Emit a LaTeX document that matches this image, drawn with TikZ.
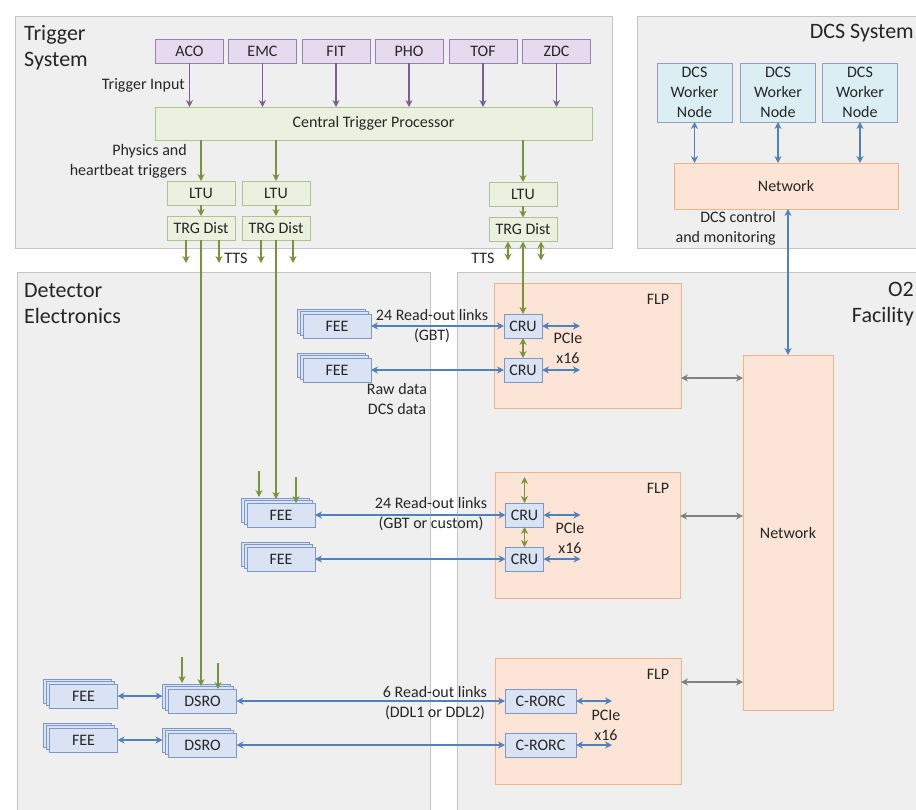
\documentclass[tikz,border=0pt]{standalone}
\usepackage{fontspec}
\setmainfont{Carlito}
\usetikzlibrary{arrows.meta}
\definecolor{txt}{HTML}{262626}
\definecolor{panelfill}{HTML}{EFEFEF}
\definecolor{panelline}{HTML}{C4C4C4}
\definecolor{pfill}{HTML}{E6DAEE}
\definecolor{pline}{HTML}{9582B4}
\definecolor{parrow}{HTML}{7A5E99}
\definecolor{gfill}{HTML}{EBF1DE}
\definecolor{gline}{HTML}{AEC48F}
\definecolor{garrow}{HTML}{77933C}
\definecolor{bfill}{HTML}{DAE3F3}
\definecolor{bline}{HTML}{7D98C8}
\definecolor{barrow}{HTML}{4F81BD}
\definecolor{cfill}{HTML}{DBEEF4}
\definecolor{cline}{HTML}{949CC4}
\definecolor{ofill}{HTML}{FCE4D6}
\definecolor{oline}{HTML}{F4B183}
\definecolor{grayarrow}{HTML}{808080}
\newcommand\boxfont{\fontsize{16}{20}\selectfont}
\newcommand\titlefont{\fontsize{22}{26}\selectfont}
\newcommand\stk[4]{%
  \node[bluebox] (#1c) at (#2-6,#3-5) {};
  \node[bluebox] (#1b) at (#2-3,#3-2.5) {};
  \node[bluebox] (#1) at (#2,#3) {#4};}
\tikzset{
  every node/.style={text=txt},
  panel/.style={fill=panelfill, draw=panelline, line width=1pt},
  title/.style={font=\titlefont, inner sep=0pt, align=left},
  bx/.style={line width=1pt, inner sep=0pt, outer sep=0pt, font=\boxfont,
             minimum height=24pt, minimum width=68pt},
  purplebox/.style={bx, fill=pfill, draw=pline},
  greenbox/.style={bx, fill=gfill, draw=gline},
  bluebox/.style={bx, fill=bfill, draw=bline},
  cyanbox/.style={bx, fill=cfill, draw=cline, align=center},
  orangebox/.style={bx, fill=ofill, draw=oline},
  lbl/.style={font=\boxfont, inner sep=0pt, align=center},
  parr/.style={draw=parrow, line width=1.5pt, -{Stealth[length=7pt,width=7pt]}},
  garr/.style={draw=garrow, line width=1.5pt, -{Stealth[length=7pt,width=7pt]}},
  gdarr/.style={draw=garrow, line width=1.5pt, {Stealth[length=7pt,width=7pt]}-{Stealth[length=7pt,width=7pt]}},
  barr/.style={draw=barrow, line width=1.4pt, {Stealth[length=7pt,width=7pt]}-{Stealth[length=7pt,width=7pt]}},
  grarr/.style={draw=grayarrow, line width=1.4pt, {Stealth[length=7pt,width=7pt]}-{Stealth[length=7pt,width=7pt]}},
}
\begin{document}
\begin{tikzpicture}[x=1pt,y=-1pt]
\useasboundingbox (0,0) rectangle (916,809);
\fill[white] (0,0) rectangle (916,809);
\clip (0,0) rectangle (916,809);
% panels
\draw[panel] (15,16) rectangle (612,248);
\draw[panel] (637,16) rectangle (930,248);
\draw[panel] (17,272) rectangle (430,830);
\draw[panel] (457,272) rectangle (930,830);
% titles
\node[title, anchor=west] at (24,48) {Trigger\\System};
\node[title, anchor=east, align=right] at (914,33) {DCS System};
\node[title, anchor=west] at (24,304) {Detector\\Electronics};
\node[title, anchor=east, align=right] at (914,304) {O2\\Facility};
% trigger system
\node[purplebox] (aco) at (189.5,51) {ACO};
\node[purplebox] (emc) at (262.5,51) {EMC};
\node[purplebox] (fit) at (336,51) {FIT};
\node[purplebox] (pho) at (409,51) {PHO};
\node[purplebox] (tof) at (483,51) {TOF};
\node[purplebox] (zdc) at (556.5,51) {ZDC};
\node[greenbox, minimum width=437pt, minimum height=33pt] (ctp) at (373.5,123.5) {Central Trigger Processor};
\foreach \n in {aco,emc,fit,pho,tof,zdc} \draw[parr] (\n.south) -- (\n.south |- ctp.north);
\node[greenbox] (ltu1) at (201,193) {LTU};
\node[greenbox] (ltu2) at (276,193) {LTU};
\node[greenbox] (ltu3) at (523,194) {LTU};
\node[greenbox] (trg1) at (201,228) {TRG Dist};
\node[greenbox] (trg2) at (276,228) {TRG Dist};
\node[greenbox] (trg3) at (523,229.5) {TRG Dist};
\foreach \i in {1,2,3} {
  \draw[garr] (ltu\i.north |- ctp.south) -- (ltu\i.north);
  \draw[garr] (ltu\i) -- (trg\i);
}
\node[lbl, anchor=east] at (185,85) {Trigger Input};
\node[lbl, anchor=east, align=right] at (187,161) {Physics and\\heartbeat triggers};
\draw[garr] ([xshift=-15pt]trg1.south) -- ++(0,23);
\draw[garr] ([xshift=18pt]trg1.south) -- ++(0,23);
\draw[garr] ([xshift=-15pt]trg2.south) -- ++(0,23);
\draw[garr] ([xshift=17pt]trg2.south) -- ++(0,23);
\draw[gdarr] ([xshift=-15pt]trg3.south) -- ++(0,19);
\draw[gdarr] ([xshift=18pt]trg3.south) -- ++(0,19);
\node[lbl] at (236,258) {TTS};
\node[lbl] at (483,258) {TTS};
% DCS system
\node[cyanbox, minimum width=75pt, minimum height=59pt] (w1) at (694.5,92.5) {DCS\\Worker\\Node};
\node[cyanbox, minimum width=75pt, minimum height=59pt] (w2) at (778,92.5) {DCS\\Worker\\Node};
\node[cyanbox, minimum width=75pt, minimum height=59pt] (w3) at (860,92.5) {DCS\\Worker\\Node};
\node[orangebox, minimum width=224pt, minimum height=46pt] (dnet) at (786,186) {Network};
\foreach \w in {w1,w2,w3} \draw[barr] (\w.south) -- (\w.south |- dnet.north);
\node[lbl, anchor=east, align=right] at (776,228.5) {DCS control\\and monitoring};
% O2 facility
\node[orangebox, minimum width=187pt, minimum height=125pt] (flp1) at (587.5,345.5) {};
\node[orangebox, minimum width=185pt, minimum height=126pt] (flp2) at (587.5,535) {};
\node[orangebox, minimum width=186pt, minimum height=126pt] (flp3) at (588,721) {};
\node[lbl] at (658,299) {FLP};
\node[lbl] at (658,488) {FLP};
\node[lbl] at (658,674) {FLP};
\node[orangebox, minimum width=90pt, minimum height=355pt] (onet) at (788,532.5) {Network};
\draw[barr] (onet.north) -- (onet.north |- dnet.south);
\coordinate (g1) at (681,378);
\coordinate (g2) at (681,516);
\coordinate (g3) at (681,682);
\draw[grarr] (flp1.east |- g1) -- (onet.west |- g1);
\draw[grarr] (flp2.east |- g2) -- (onet.west |- g2);
\draw[grarr] (flp3.east |- g3) -- (onet.west |- g3);
\node[bluebox, minimum width=38pt] (cru1) at (523,326) {CRU};
\node[bluebox, minimum width=38pt] (cru2) at (523,370) {CRU};
\node[bluebox, minimum width=38pt] (cru3) at (524.5,515) {CRU};
\node[bluebox, minimum width=38pt] (cru4) at (524.5,559) {CRU};
\node[bluebox, minimum width=71pt] (crorc1) at (540.5,701) {C-RORC};
\node[bluebox, minimum width=71pt] (crorc2) at (540.5,745) {C-RORC};
% detector electronics
\stk{fee1}{337}{326}{FEE}
\stk{fee2}{337}{370}{FEE}
\stk{fee3}{281}{515}{FEE}
\stk{fee4}{281}{559}{FEE}
\stk{fee5}{83.5}{696}{FEE}
\stk{fee6}{83.5}{740}{FEE}
\stk{dsro1}{202.5}{701}{DSRO}
\stk{dsro2}{202.5}{745}{DSRO}
% trigger lines into detector
\draw[gdarr] (trg3.south) -- (cru1.north);
\draw[gdarr] (cru1.south) -- (cru2.north);
\draw[gdarr] (cru3.south) -- (cru4.north);
\draw[gdarr] (cru3.north) -- ++(0,-26);
\coordinate (d1) at (182,657);
\coordinate (d2) at (218,663);
\draw[garr] (d1) -- ++(0,26);
\draw[garr] (d2) -- ++(0,26);
\draw[garr] (trg1.south) -- ++(0,446);
\coordinate (f1) at (259,471);
\coordinate (f2) at (296,477);
\draw[garr] (f1) -- ++(0,26);
\draw[garr] (f2) -- ++(0,26);
\draw[garr] (trg2.south) -- ++(0,259);
% read-out links
\draw[barr] (fee1.east) -- (cru1.west);
\draw[barr] (fee2.east) -- (cru2.west);
\draw[barr] (fee3.east) -- (cru3.west);
\draw[barr] (fee4.east) -- (cru4.west);
\draw[barr] (fee5.east) -- (fee5.east -| dsro1c.west);
\draw[barr] (fee6.east) -- (fee6.east -| dsro2c.west);
\draw[barr] (dsro1.east) -- (crorc1.west);
\draw[barr] (dsro2.east) -- (crorc2.west);
\draw[barr] (cru1.east) -- ++(38,0);
\draw[barr] (cru2.east) -- ++(38,0);
\draw[barr] (cru3.east) -- ++(37,0);
\draw[barr] (cru4.east) -- ++(37,0);
\draw[barr] (crorc1.east) -- ++(36,0);
\draw[barr] (crorc2.east) -- ++(36,0);
\node[lbl] at (432,326.5) {24 Read-out links\\(GBT)};
\node[lbl] at (397,399) {Raw data\\DCS data};
\node[lbl] at (568,348) {PCIe\\x16};
\node[lbl] at (431,514.5) {24 Read-out links\\(GBT or custom)};
\node[lbl] at (570,538) {PCIe\\x16};
\node[lbl] at (435,703) {6 Read-out links\\(DDL1 or DDL2)};
\node[lbl] at (606,725) {PCIe\\x16};
\end{tikzpicture}
\end{document}
